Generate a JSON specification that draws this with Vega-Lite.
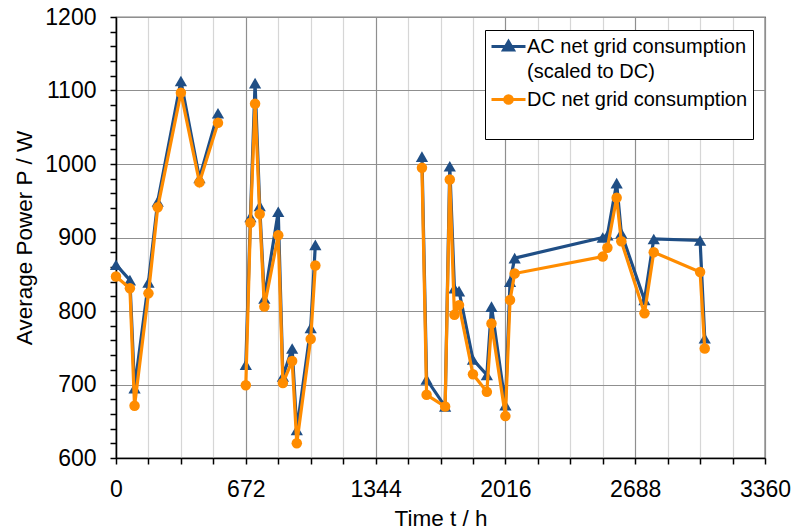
{
  "$schema": "https://vega.github.io/schema/vega-lite/v6.json",
  "width": 649,
  "height": 441,
  "autosize": {"type": "none"},
  "padding": {"left": 116, "top": 17, "right": 31, "bottom": 72},
  "background": "white",
  "config": {
    "view": {"stroke": "black", "strokeWidth": 1.2},
    "font": "Liberation Sans",
    "axis": {
      "labelFont": "Liberation Sans",
      "titleFont": "Liberation Sans",
      "labelFontSize": 23,
      "titleFontSize": 22.5,
      "titleFontWeight": "normal",
      "labelColor": "black",
      "titleColor": "black",
      "domainColor": "black",
      "domainWidth": 1.5,
      "tickColor": "black",
      "tickWidth": 1.5,
      "tickSize": 6,
      "labelPadding": 14,
      "labelOverlap": false,
      "labelFlush": false,
      "gridWidth": 1.2
    }
  },
  "datasets": {
    "pts": [
      {"t": 0, "v": 863, "s": "AC", "g": 1}, {"t": 72, "v": 842, "s": "AC", "g": 1}, {"t": 96, "v": 695, "s": "AC", "g": 1}, {"t": 168, "v": 839, "s": "AC", "g": 1}, {"t": 216, "v": 949, "s": "AC", "g": 1}, {"t": 336, "v": 1113, "s": "AC", "g": 1}, {"t": 432, "v": 981, "s": "AC", "g": 1}, {"t": 528, "v": 1069, "s": "AC", "g": 1},
      {"t": 672, "v": 727, "s": "AC", "g": 2}, {"t": 696, "v": 928, "s": "AC", "g": 2}, {"t": 720, "v": 1110, "s": "AC", "g": 2}, {"t": 744, "v": 943, "s": "AC", "g": 2}, {"t": 768, "v": 817, "s": "AC", "g": 2}, {"t": 840, "v": 935, "s": "AC", "g": 2}, {"t": 864, "v": 711, "s": "AC", "g": 2}, {"t": 912, "v": 749, "s": "AC", "g": 2}, {"t": 936, "v": 638, "s": "AC", "g": 2}, {"t": 1008, "v": 777, "s": "AC", "g": 2}, {"t": 1032, "v": 890, "s": "AC", "g": 2},
      {"t": 1584, "v": 1010, "s": "AC", "g": 3}, {"t": 1608, "v": 707, "s": "AC", "g": 3}, {"t": 1704, "v": 670, "s": "AC", "g": 3}, {"t": 1728, "v": 997, "s": "AC", "g": 3}, {"t": 1752, "v": 831, "s": "AC", "g": 3}, {"t": 1776, "v": 827, "s": "AC", "g": 3}, {"t": 1848, "v": 734, "s": "AC", "g": 3}, {"t": 1920, "v": 713, "s": "AC", "g": 3}, {"t": 1944, "v": 806, "s": "AC", "g": 3}, {"t": 2016, "v": 672, "s": "AC", "g": 3}, {"t": 2040, "v": 840, "s": "AC", "g": 3}, {"t": 2064, "v": 872, "s": "AC", "g": 3}, {"t": 2520, "v": 900, "s": "AC", "g": 3}, {"t": 2544, "v": 903, "s": "AC", "g": 3}, {"t": 2592, "v": 974, "s": "AC", "g": 3}, {"t": 2616, "v": 906, "s": "AC", "g": 3}, {"t": 2736, "v": 815, "s": "AC", "g": 3}, {"t": 2784, "v": 898, "s": "AC", "g": 3}, {"t": 3024, "v": 896, "s": "AC", "g": 3}, {"t": 3048, "v": 763, "s": "AC", "g": 3},
      {"t": 0, "v": 847, "s": "DC", "g": 1}, {"t": 72, "v": 831, "s": "DC", "g": 1}, {"t": 96, "v": 671, "s": "DC", "g": 1}, {"t": 168, "v": 824, "s": "DC", "g": 1}, {"t": 216, "v": 941, "s": "DC", "g": 1}, {"t": 336, "v": 1097, "s": "DC", "g": 1}, {"t": 432, "v": 975, "s": "DC", "g": 1}, {"t": 528, "v": 1056, "s": "DC", "g": 1},
      {"t": 672, "v": 699, "s": "DC", "g": 2}, {"t": 696, "v": 920, "s": "DC", "g": 2}, {"t": 720, "v": 1082, "s": "DC", "g": 2}, {"t": 744, "v": 932, "s": "DC", "g": 2}, {"t": 768, "v": 806, "s": "DC", "g": 2}, {"t": 840, "v": 903, "s": "DC", "g": 2}, {"t": 864, "v": 702, "s": "DC", "g": 2}, {"t": 912, "v": 732, "s": "DC", "g": 2}, {"t": 936, "v": 620, "s": "DC", "g": 2}, {"t": 1008, "v": 762, "s": "DC", "g": 2}, {"t": 1032, "v": 862, "s": "DC", "g": 2},
      {"t": 1584, "v": 995, "s": "DC", "g": 3}, {"t": 1608, "v": 686, "s": "DC", "g": 3}, {"t": 1704, "v": 670, "s": "DC", "g": 3}, {"t": 1728, "v": 979, "s": "DC", "g": 3}, {"t": 1752, "v": 795, "s": "DC", "g": 3}, {"t": 1776, "v": 808, "s": "DC", "g": 3}, {"t": 1848, "v": 714, "s": "DC", "g": 3}, {"t": 1920, "v": 690, "s": "DC", "g": 3}, {"t": 1944, "v": 783, "s": "DC", "g": 3}, {"t": 2016, "v": 657, "s": "DC", "g": 3}, {"t": 2040, "v": 815, "s": "DC", "g": 3}, {"t": 2064, "v": 851, "s": "DC", "g": 3}, {"t": 2520, "v": 874, "s": "DC", "g": 3}, {"t": 2544, "v": 886, "s": "DC", "g": 3}, {"t": 2592, "v": 954, "s": "DC", "g": 3}, {"t": 2616, "v": 895, "s": "DC", "g": 3}, {"t": 2736, "v": 797, "s": "DC", "g": 3}, {"t": 2784, "v": 880, "s": "DC", "g": 3}, {"t": 3024, "v": 853, "s": "DC", "g": 3}, {"t": 3048, "v": 749, "s": "DC", "g": 3}
    ]
  },
  "data": {"name": "pts"},
  "encoding": {
    "x": {
      "field": "t", "type": "quantitative",
      "scale": {"domain": [0, 3360], "nice": false, "zero": false},
      "axis": {
        "title": "Time t / h",
        "titlePadding": 6,
        "format": "d",
        "values": [0, 168, 336, 504, 672, 840, 1008, 1176, 1344, 1512, 1680, 1848, 2016, 2184, 2352, 2520, 2688, 2856, 3024, 3192, 3360],
        "labelExpr": "datum.value % 672 == 0 ? datum.label : ''",
        "grid": true,
        "gridColor": {"condition": {"test": "datum.value % 672 == 0", "value": "#8f8f8f"}, "value": "#d6d6d6"}
      }
    },
    "y": {
      "field": "v", "type": "quantitative",
      "scale": {"domain": [600, 1200], "nice": false, "zero": false},
      "axis": {
        "title": "Average Power P / W",
        "titlePadding": 8,
        "format": "d",
        "values": [600, 620, 640, 660, 680, 700, 720, 740, 760, 780, 800, 820, 840, 860, 880, 900, 920, 940, 960, 980, 1000, 1020, 1040, 1060, 1080, 1100, 1120, 1140, 1160, 1180, 1200],
        "labelExpr": "datum.value % 100 == 0 ? datum.label : ''",
        "grid": true,
        "gridColor": "#8f8f8f",
        "gridOpacity": {"condition": {"test": "datum.value % 100 == 0", "value": 1}, "value": 0}
      }
    },
    "color": {
      "field": "s", "type": "nominal",
      "scale": {"domain": ["AC", "DC"], "range": ["#1F4E85", "#FF8C00"]},
      "legend": {
        "orient": "none",
        "legendX": 369,
        "legendY": 13,
        "title": " ",
        "titleOrient": "bottom",
        "titleFontSize": 20,
        "titlePadding": 4,
        "padding": 5,
        "fillColor": "white",
        "strokeColor": "black",
        "labelFont": "Liberation Sans",
        "labelFontSize": 20,
        "labelColor": "black",
        "labelLimit": 0,
        "labelOffset": 7,
        "symbolOffset": 7,
        "rowPadding": 6,
        "symbolSize": 400,
        "symbolStrokeWidth": 3,
        "labelExpr": "datum.value == 'AC' ? ['AC net grid consumption', '(scaled to DC)'] : 'DC net grid consumption'",
        "encode": {
          "labels": {"update": {"lineHeight": {"value": 25}}},
          "symbols": {
            "update": {
              "shape": {"signal": "datum.value == 'AC' ? 'M-1.7,0H1.7M-0.5,0.35L0,-0.5L0.5,0.35Z' : 'M-1.7,0H1.7M0.38,0A0.38,0.38,0,1,1,-0.38,0A0.38,0.38,0,1,1,0.38,0Z'"},
              "fill": {"signal": "datum.value == 'AC' ? '#1F4E85' : '#FF8C00'"},
              "stroke": {"signal": "datum.value == 'AC' ? '#1F4E85' : '#FF8C00'"},
              "fillOpacity": {"value": 1},
              "strokeWidth": {"value": 3}
            }
          }
        }
      }
    }
  },
  "layer": [
    {
      "transform": [{"filter": "datum.s == 'AC'"}],
      "mark": {"type": "line", "strokeWidth": 3.2},
      "encoding": {"detail": {"field": "g", "type": "nominal"}}
    },
    {
      "transform": [{"filter": "datum.s == 'AC'"}],
      "mark": {"type": "point", "shape": "triangle-up", "filled": true, "opacity": 1, "size": 150}
    },
    {
      "transform": [{"filter": "datum.s == 'DC'"}],
      "mark": {"type": "line", "strokeWidth": 3.2},
      "encoding": {"detail": {"field": "g", "type": "nominal"}}
    },
    {
      "transform": [{"filter": "datum.s == 'DC'"}],
      "mark": {"type": "point", "shape": "circle", "filled": true, "opacity": 1, "size": 110}
    }
  ]
}
